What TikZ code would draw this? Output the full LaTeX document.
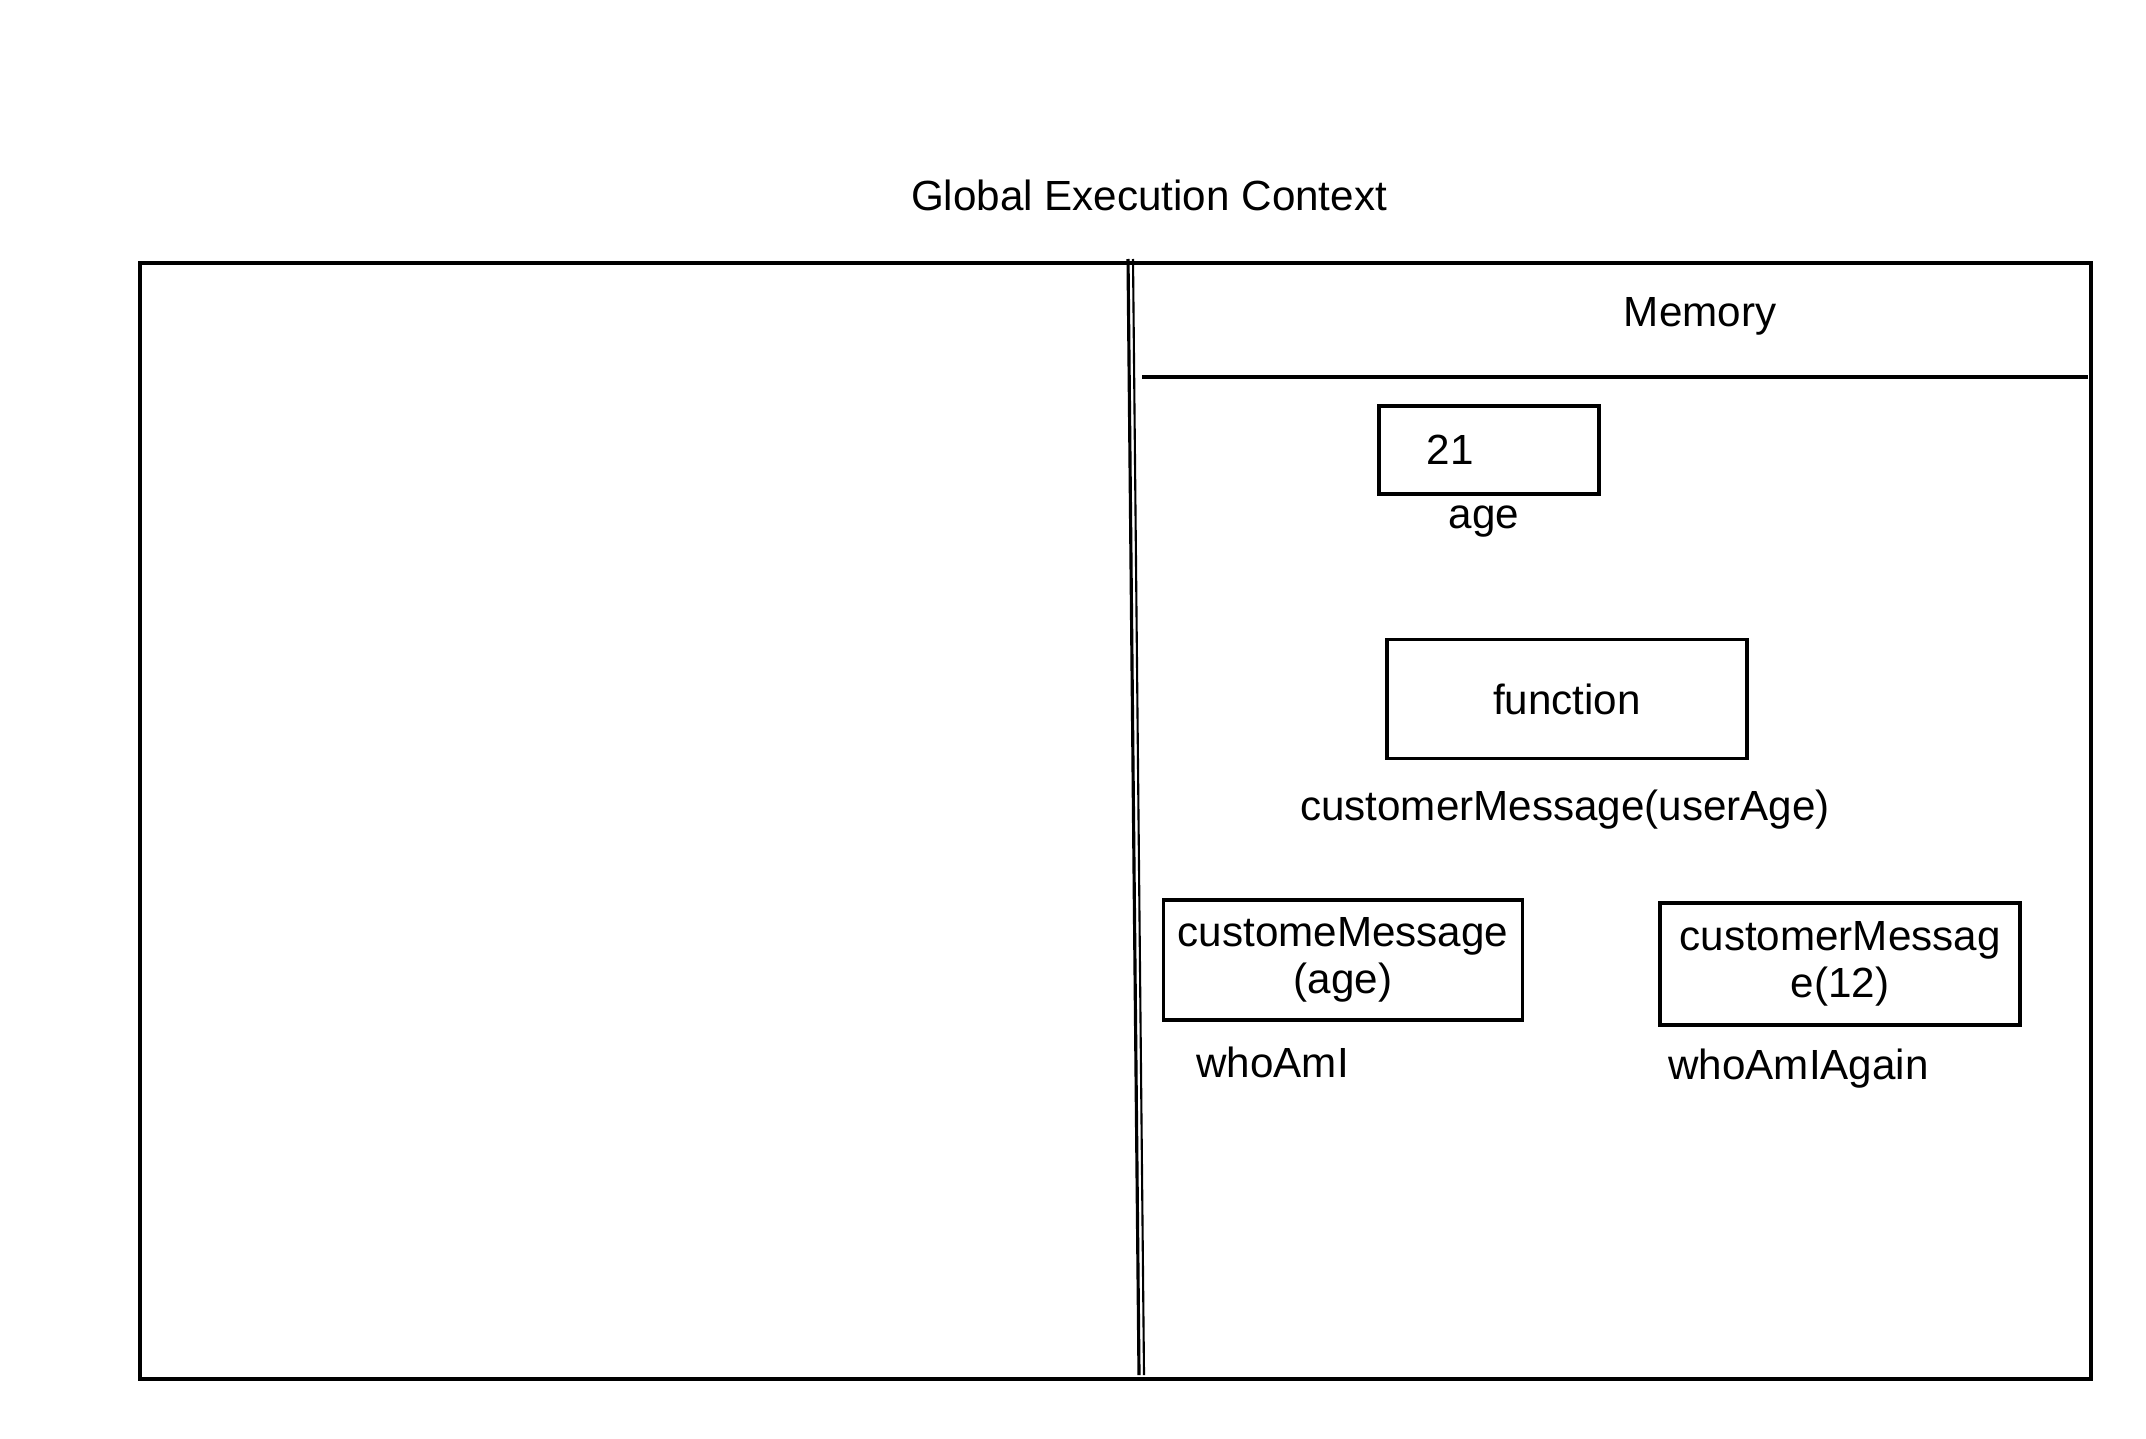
\documentclass[tikz,border=0pt]{standalone}
\usepackage{fontspec}
\setmainfont{Liberation Sans}
\usepackage{tikz}
\usetikzlibrary{positioning,calc}

\begin{document}
\begin{tikzpicture}[
    every node/.style={font=\fontsize{12}{13.5}\selectfont},
    membox/.style={draw, line width=0.9pt, inner sep=0pt, align=center},
    sketch/.style={line width=0.9pt}
]
    \useasboundingbox (0,0) rectangle (21.46,-14.38);

    % Title
    \node (title) at (11.49,-1.95) {Global Execution Context};

    % Execution context frame
    \draw [sketch] (1.40,-2.63) rectangle (20.91,-13.79);
    \draw [sketch] (11.28,-2.59) -- (11.39,-13.75);
    \draw [line width=0.6pt] (11.33,-2.59) -- (11.44,-13.75);

    % Memory header
    \node (memory) at (17.00,-3.16) {Memory};
    \draw [sketch] (11.42,-3.77) -- (20.88,-3.77);

    % Variables
    \node [membox, minimum width=2.20cm, minimum height=0.88cm] (agebox) at (14.89,-4.50) {};
    \node (ageval) at (14.50,-4.50) {21};
    \node (agename) at (14.84,-5.22) {age};

    \node [membox, minimum width=3.60cm, minimum height=1.19cm] (funcbox) at (15.67,-6.99) {function};
    \node (funcname) at (15.65,-8.10) {customerMessage(userAge)};

    \node [membox, minimum width=3.59cm, minimum height=1.20cm] (whobox) at (13.43,-9.60) {customeMessage\\(age)};
    \node [anchor=west] (whoname) at (11.84,-10.62) {whoAmI};

    \node [membox, minimum width=3.60cm, minimum height=1.22cm] (againbox) at (18.40,-9.64) {customerMessag\\e(12)};
    \node [anchor=west] (againname) at (16.56,-10.69) {whoAmIAgain};
\end{tikzpicture}
\end{document}
